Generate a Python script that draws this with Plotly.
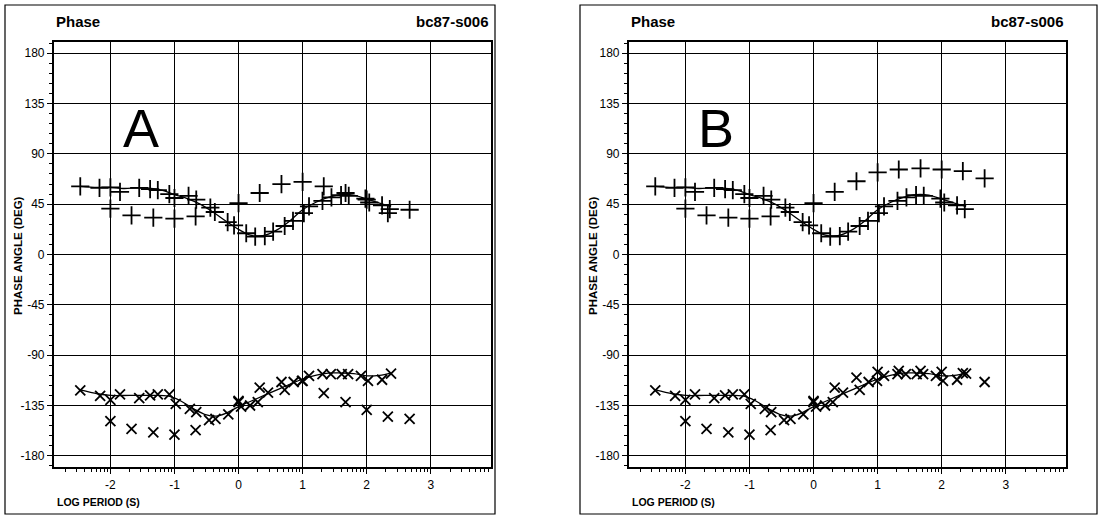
import numpy as np
import plotly.graph_objects as go

# ---------------- data ----------------
# smooth model curves (shared by both panels)
model_upper_x = [-2.47, -2.2, -2.0, -1.8, -1.5, -1.2, -1.0, -0.8, -0.6, -0.4, -0.2, 0.0,
                 0.2, 0.4, 0.6, 0.8, 1.0, 1.2, 1.4, 1.6, 1.8, 2.0, 2.2, 2.38]
model_upper_y = [61, 60, 60, 59, 59.5, 57.5, 53.5, 50, 45, 38, 30, 22.5,
                 17, 17, 22, 30, 40, 46.5, 51, 53.5, 53, 49.5, 46, 43]
model_lower_x = [-2.47, -2.2, -2.0, -1.7, -1.4, -1.1, -0.9, -0.7, -0.5, -0.35, -0.2, 0.0,
                 0.2, 0.4, 0.6, 0.8, 1.0, 1.2, 1.4, 1.6, 1.8, 2.0, 2.2, 2.38]
model_lower_y = [-121, -124.5, -126, -126, -126, -126.5, -131, -138, -143.5, -144.5, -142, -136,
                 -131, -126, -121, -116, -111.5, -108, -106, -106, -106.5, -108.5, -108, -106]

# data points that follow the model (shared)
plus_fit_x = [-2.47, -2.17, -2.0, -1.85, -1.55, -1.38, -1.26, -1.08, -1.0, -0.78, -0.66, -0.44,
              -0.37, -0.17, -0.07, 0.12, 0.26, 0.41, 0.54, 0.72, 0.85, 1.02, 1.1, 1.31, 1.45,
              1.6, 1.72, 1.98, 2.04, 2.24, 2.36]
plus_fit_y = [61, 59.5, 60, 56, 59.5, 58.5, 57.5, 54, 50.5, 52.5, 49, 42,
              38, 29, 26, 19, 16, 16.5, 20.5, 25.5, 30, 37, 43, 48, 51,
              53, 52.5, 50, 46.5, 44, 40.5]
cross_fit_x = [-2.47, -2.16, -2.0, -1.85, -1.55, -1.38, -1.26, -1.08, -0.98, -0.76, -0.66, -0.46,
               -0.36, -0.16, 0.0, 0.04, 0.18, 0.3, 0.46, 0.72, 0.86, 0.99, 1.1, 1.31, 1.44,
               1.61, 1.71, 1.91, 2.02, 2.24, 2.38]
cross_fit_y = [-121.5, -126.5, -130, -125, -128.5, -126, -125, -125, -133.5, -138, -141, -148,
               -147, -143, -132, -136, -135, -132, -123.5, -121, -114, -113, -108.5, -107, -107,
               -107, -107, -108.5, -113, -112, -106.5]

# second data set (one point every third of a decade)
off_x = [-2.0, -1.67, -1.33, -1.0, -0.67, 0.0, 0.33, 0.67, 1.0, 1.33, 1.67, 2.0, 2.33, 2.67]
plus_off_A = [41, 35, 33, 32, 34, 46, 55, 63, 65, 61, 55, 49, 37, 40]
plus_off_B = [41, 35, 33, 32, 34, 46, 56, 65.5, 73.5, 76, 77, 76, 74.5, 68]
cross_off_A = [-149, -156, -159, -161, -157, -131, -119, -114, -113, -124, -132, -139, -145, -147]
cross_off_B = [-149, -156, -159, -161, -157, -131, -119, -110, -105, -104, -104, -105, -106, -114]

panel_letters = ["A", "B"]
y_ticks = [-180, -135, -90, -45, 0, 45, 90, 135, 180]
x_ticks = [-2, -1, 0, 1, 2, 3]
title_left = "Phase"
title_right = "bc87-s006"
y_title = "PHASE ANGLE (DEG)"
x_title = "LOG PERIOD (S)"

# ---------------- figure ----------------
W, H = 1098, 516
FONT = "Liberation Sans, Arial, sans-serif"
fig = go.Figure()

panels = [
    dict(xa="x", ya="y", px0=54, px1=491, frame=(5, 495), plus_off=plus_off_A, cross_off=cross_off_A),
    dict(xa="x2", ya="y2", px0=629, px1=1066, frame=(580, 1097), plus_off=plus_off_B, cross_off=cross_off_B),
]

minor_x = []
for d in range(-3, 4):
    for k in range(2, 10):
        v = d + np.log10(k)
        if -2.88 < v < 3.94:
            minor_x.append(float(v))

for i, p in enumerate(panels):
    xa, ya = p["xa"], p["ya"]
    fig.add_trace(go.Scatter(x=model_upper_x, y=model_upper_y, mode="lines",
                             line=dict(color="black", width=1.3, shape="spline"),
                             xaxis=xa, yaxis=ya, showlegend=False, hoverinfo="skip"))
    fig.add_trace(go.Scatter(x=model_lower_x, y=model_lower_y, mode="lines",
                             line=dict(color="black", width=1.3, shape="spline"),
                             xaxis=xa, yaxis=ya, showlegend=False, hoverinfo="skip"))
    fig.add_trace(go.Scatter(x=plus_fit_x, y=plus_fit_y, mode="markers",
                             marker=dict(symbol="cross-thin", size=13, line=dict(color="black", width=1.8)),
                             xaxis=xa, yaxis=ya, showlegend=False))
    fig.add_trace(go.Scatter(x=off_x, y=p["plus_off"], mode="markers",
                             marker=dict(symbol="cross-thin", size=13, line=dict(color="black", width=1.8)),
                             xaxis=xa, yaxis=ya, showlegend=False))
    fig.add_trace(go.Scatter(x=cross_fit_x, y=cross_fit_y, mode="markers",
                             marker=dict(symbol="x-thin", size=10, line=dict(color="black", width=1.8)),
                             xaxis=xa, yaxis=ya, showlegend=False))
    fig.add_trace(go.Scatter(x=off_x, y=p["cross_off"], mode="markers",
                             marker=dict(symbol="x-thin", size=10, line=dict(color="black", width=1.8)),
                             xaxis=xa, yaxis=ya, showlegend=False))

    xkey = "xaxis" if i == 0 else "xaxis2"
    ykey = "yaxis" if i == 0 else "yaxis2"
    fig.update_layout(**{
        xkey: dict(domain=[p["px0"] / W, p["px1"] / W], range=[-2.88, 3.94],
                   anchor=ya, tickmode="array", tickvals=x_ticks,
                   ticktext=[str(v) for v in x_ticks],
                   ticks="outside", ticklen=5, tickwidth=1.2, tickcolor="black",
                   showgrid=True, gridcolor="black", gridwidth=1.2,
                   zeroline=False, showline=True, linecolor="black", linewidth=2.2, mirror=True,
                   tickfont=dict(family=FONT, size=12, color="black"),
                   minor=dict(tickmode="array", tickvals=minor_x, ticks="outside",
                              ticklen=3, tickwidth=1.2, tickcolor="black", showgrid=False)),
        ykey: dict(domain=[(H - 467) / H, (H - 42) / H], range=[-190, 190],
                   anchor=xa, tickmode="array", tickvals=y_ticks,
                   ticktext=[str(v) for v in y_ticks],
                   ticks="outside", ticklen=5, tickwidth=1.2, tickcolor="black",
                   showgrid=True, gridcolor="black", gridwidth=1.2,
                   zeroline=False, showline=True, linecolor="black", linewidth=2.2, mirror=True,
                   tickfont=dict(family=FONT, size=12, color="black"),
                   minor=dict(dtick=9, tick0=0, ticks="outside", ticklen=3, tickwidth=1.2,
                              tickcolor="black", showgrid=False)),
    })

    # panel frame
    fig.add_shape(type="rect", xref="paper", yref="paper",
                  x0=p["frame"][0] / W, x1=p["frame"][1] / W,
                  y0=(H - 514) / H, y1=(H - 5) / H,
                  line=dict(color="black", width=1.2))

    # titles
    fig.add_annotation(text="<b>" + title_left + "</b>", xref="paper", yref="paper",
                       x=p["px0"] / W, y=(H - 22) / H, xanchor="left", yanchor="middle",
                       showarrow=False, font=dict(family=FONT, size=15, color="black"))
    fig.add_annotation(text="<b>" + title_right + "</b>", xref="paper", yref="paper",
                       x=p["px1"] / W, y=(H - 22) / H, xanchor="right", yanchor="middle",
                       showarrow=False, font=dict(family=FONT, size=15, color="black"))
    fig.add_annotation(text="<b>" + y_title + "</b>", xref="paper", yref="paper",
                       x=(p["px0"] - 36) / W, y=(H - 256) / H, xanchor="center", yanchor="middle",
                       textangle=-90, showarrow=False,
                       font=dict(family=FONT, size=11.5, color="black"))
    fig.add_annotation(text="<b>" + x_title + "</b>", xref="paper", yref="paper",
                       x=(p["px0"] + 1) / W, y=(H - 502) / H, xanchor="left", yanchor="middle",
                       showarrow=False, font=dict(family=FONT, size=10.5, color="black"))
    fig.add_annotation(text=panel_letters[i], xref=xa, yref=ya,
                       x=-1.53, y=113, xanchor="center", yanchor="middle",
                       showarrow=False, font=dict(family=FONT, size=54, color="black"))

fig.update_layout(width=W, height=H, margin=dict(l=0, r=0, t=0, b=0),
                  paper_bgcolor="white", plot_bgcolor="white", showlegend=False)

fig.write_html("out.html", config={"displayModeBar": False},
               post_script="document.body.style.margin='0px';")
